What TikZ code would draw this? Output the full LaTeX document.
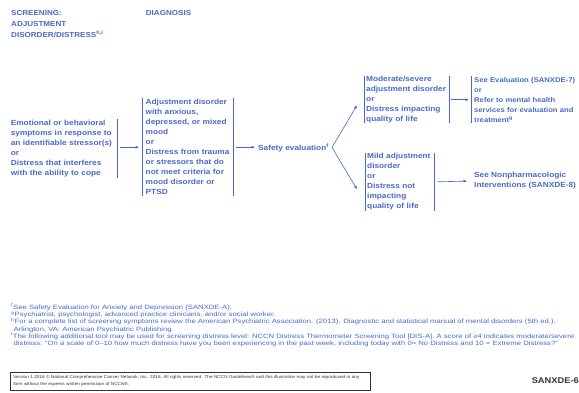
\documentclass[tikz,border=0pt]{standalone}
\usepackage{fontspec}
\setmainfont[FakeStretch=1.12]{Liberation Sans}
\newfontfamily\footfont[FakeStretch=1.24]{Liberation Sans}
\usetikzlibrary{arrows.meta,calc}
\definecolor{nccn}{RGB}{72,104,200}
\definecolor{ink}{RGB}{50,50,50}
\begin{document}
\begin{tikzpicture}[x=1pt,y=-1pt,
  txt/.style={font=\fontsize{7.4}{10}\selectfont\bfseries, text=nccn, align=left, inner sep=0pt},
  box/.style={txt, inner xsep=#1, inner ysep=0pt},
  bar/.style={draw=nccn, line width=0.8pt},
  arr/.style={draw=nccn, line width=0.6pt, -{Latex[length=3.5pt,width=3pt]}},
  foot/.style={font=\footfont\fontsize{6.2}{7.2}\selectfont, text=nccn, align=left, inner sep=0pt}
]
\useasboundingbox (0,0) rectangle (579,393);

% headers
\node[txt, anchor=north west, font=\fontsize{7.2}{11}\selectfont\bfseries] (hdr) at (11,10)
  {SCREENING:\\ADJUSTMENT\\DISORDER/DISTRESS\textsuperscript{h,i}};
\node[txt, anchor=north west, font=\fontsize{7.2}{11}\selectfont\bfseries] (dgn) at (145.7,10) {DIAGNOSIS};

% boxes
\node[box=3pt, anchor=north east, text width=103pt, minimum height=59pt] (symp) at (117,119)
  {Emotional or behavioral\\symptoms in response to\\an identifiable stressor(s)\\or\\Distress that interferes\\with the ability to cope};
\node[box=3pt, anchor=north west, text width=84pt, minimum height=98pt] (diag) at (142.5,98)
  {Adjustment disorder\\with anxious,\\depressed, or mixed\\mood\\or\\Distress from trauma\\or stressors that do\\not meet criteria for\\mood disorder or\\PTSD};
\node[box=3pt, anchor=west] (safety) at (255,147.5) {Safety evaluation\textsuperscript{f}};
\node[box=2pt, anchor=north west, text width=81pt, minimum height=47pt] (modsev) at (364,76)
  {Moderate/severe\\adjustment disorder\\or\\Distress impacting\\quality of life};
\node[box=3pt, anchor=north west, text width=102pt, minimum height=47pt,
      font=\fontsize{6.85}{10}\selectfont\bfseries] (seeeval) at (471,76)
  {See Evaluation (SANXDE-7)\\or\\Refer to mental health\\services for evaluation and\\treatment\textsuperscript{g}};
\node[box=2pt, anchor=north west, text width=65pt, minimum height=58pt] (mild) at (365,152.7)
  {Mild adjustment\\disorder\\or\\Distress not\\impacting\\quality of life};
\node[box=3pt, anchor=west] (nonph) at (471,181)
  {See Nonpharmacologic\\Interventions (SANXDE-8)};

% bars
\draw[bar] (symp.north east) -- (symp.south east);
\draw[bar] (diag.north west) -- (diag.south west);
\draw[bar] (diag.north east) -- (diag.south east);
\draw[bar] (modsev.north west) -- (modsev.south west);
\draw[bar] (modsev.north east) -- (modsev.south east);
\draw[bar] (seeeval.north west) -- (seeeval.south west);
\draw[bar] (mild.north west) -- (mild.south west);
\draw[bar] (mild.north east) -- (mild.south east);

% connectors
\draw[arr, shorten <=3pt, shorten >=3.5pt] (symp.east |- diag.west) -- (diag.west);
\draw[arr, shorten <=3.5pt] (diag.east) -- (safety.west |- diag.east);
\draw[arr] (safety.east) -- ([xshift=-7pt,yshift=-5.5pt]modsev.west);
\draw[arr] (safety.east) -- ([xshift=-8pt,yshift=-7.3pt]mild.west);
\draw[arr, shorten <=2pt, shorten >=2pt] (modsev.east) -- (seeeval.west);
\draw[arr, shorten <=3pt, shorten >=4pt] (mild.east) -- (nonph.west);

% footnotes
\node[foot, anchor=north west] (notes) at (11,303.6)
  {\textsuperscript{f}See Safety Evaluation for Anxiety and Depression (SANXDE-A).\\
   \textsuperscript{g}Psychiatrist, psychologist, advanced practice clinicians, and/or social worker.\\
   \textsuperscript{h}For a complete list of screening symptoms review the American Psychiatric Association. (2013). Diagnostic and statistical manual of mental disorders (5th ed.).\\
   \hspace*{2.5pt}Arlington, VA: American Psychiatric Publishing.\\
   \textsuperscript{i}The following additional tool may be used for screening distress level: NCCN Distress Thermometer Screening Tool [DIS-A]. A score of ≥4 indicates moderate/severe\\
   \hspace*{2.5pt}distress: “On a scale of 0–10 how much distress have you been experiencing in the past week, including today with 0= No Distress and 10 = Extreme Distress?”};

% copyright
\node[draw=ink, line width=0.5pt, anchor=north west, minimum width=360pt, minimum height=16pt,
      inner xsep=3pt, text width=354pt, align=left, text=ink,
      font=\fontsize{4.2}{7}\selectfont] (copy) at (10,372)
  {Version 1.2016 © National Comprehensive Cancer Network, Inc. 2016, All rights reserved. The NCCN Guidelines® and this illustration may not be reproduced in any\\form without the express written permission of NCCN®.};
\node[anchor=east, inner sep=0pt, text=ink, font=\fontsize{8.3}{9}\selectfont\bfseries] (page) at (579,381) {SANXDE-6};
\end{tikzpicture}
\end{document}
